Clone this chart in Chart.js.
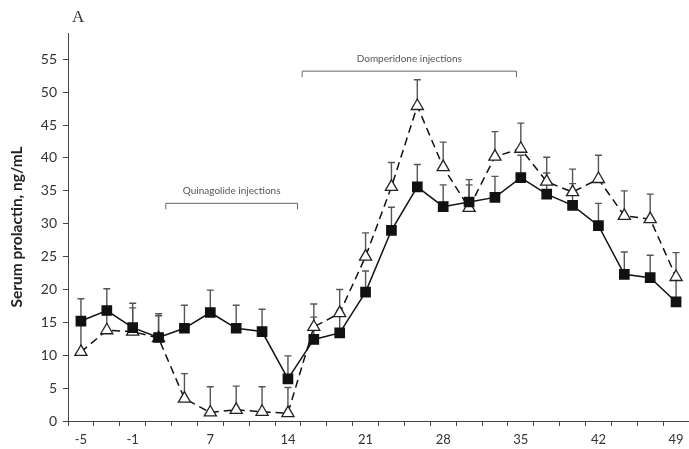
<!DOCTYPE html>
<html>
<head>
<meta charset="utf-8">
<script src="https://cdn.jsdelivr.net/npm/chart.js@4/dist/chart.umd.min.js"></script>
<style>
  html, body { margin: 0; padding: 0; background: #fff; }
  #wrap { width: 689px; height: 449px; }
</style>
</head>
<body>
<div id="wrap"><canvas id="myChart" width="689" height="449"></canvas></div>
<script>
// study days (one category per sampling day)
const days = ['-5', '-3', '-1', '2', '4', '7', '9', '11', '14', '16', '18', '21',
  '23', '25', '28', '30', '32', '35', '37', '39', '42', '44', '46', '49'];
const shownDays = ['-5', '-1', '7', '14', '21', '28', '35', '42', '49'];

// filled squares, solid line
const squareMeans = [15.2, 16.8, 14.2, 12.7, 14.1, 16.5, 14.1, 13.6, 6.4, 12.4, 13.4, 19.6,
  29.0, 35.6, 32.6, 33.3, 34.0, 37.0, 34.5, 32.8, 29.7, 22.3, 21.8, 18.1];
const squareSE = [3.4, 3.3, 3.7, 3.6, 3.5, 3.4, 3.5, 3.4, 3.5, 3.4, 3.4, 3.2,
  3.5, 3.4, 3.3, 3.4, 3.2, 3.4, 3.2, 3.3, 3.4, 3.4, 3.4, 3.5];

// open triangles, dashed line
const triangleMeans = [10.5, 13.8, 13.6, 12.6, 3.4, 1.3, 1.7, 1.4, 1.2, 14.3, 16.4, 25.0,
  35.6, 47.9, 38.6, 32.4, 40.2, 41.4, 36.4, 34.8, 36.8, 31.2, 30.7, 21.9];
const triangleSE = [4.2, 3.2, 3.6, 3.4, 3.8, 3.9, 3.6, 3.8, 3.9, 3.5, 3.6, 3.6,
  3.7, 4.0, 3.8, 3.5, 3.8, 3.9, 3.7, 3.5, 3.6, 3.8, 3.8, 3.7];

const errorBars = {
  id: 'errorBars',
  beforeDatasetsDraw(chart) {
    const { ctx } = chart;
    const x = chart.scales.x;
    const y = chart.scales.y;
    const sets = [[squareMeans, squareSE], [triangleMeans, triangleSE]];
    ctx.save();
    ctx.strokeStyle = '#555';
    ctx.lineWidth = 1.4;
    sets.forEach(([means, se]) => {
      means.forEach((m, i) => {
        const px = x.getPixelForValue(i);
        const y0 = y.getPixelForValue(m);
        const y1 = y.getPixelForValue(m + se[i]);
        ctx.beginPath();
        ctx.moveTo(px, y0);
        ctx.lineTo(px, y1);
        ctx.moveTo(px - 3.5, y1);
        ctx.lineTo(px + 3.5, y1);
        ctx.stroke();
      });
    });
    ctx.restore();
  }
};

const notes = {
  id: 'notes',
  afterDraw(chart) {
    const { ctx, chartArea } = chart;
    const x = chart.scales.x;
    const y = chart.scales.y;
    const brackets = [
      { text: 'Quinagolide injections', from: 3.28, to: 8.37, at: 33.1 },
      { text: 'Domperidone injections', from: 8.55, to: 16.83, at: 53.2 }
    ];
    ctx.save();
    brackets.forEach((b) => {
      const x0 = x.getPixelForValue(b.from);
      const x1 = x.getPixelForValue(b.to);
      const yy = y.getPixelForValue(b.at);
      ctx.strokeStyle = '#666';
      ctx.lineWidth = 1;
      ctx.beginPath();
      ctx.moveTo(x0, yy + 6);
      ctx.lineTo(x0, yy);
      ctx.lineTo(x1, yy);
      ctx.lineTo(x1, yy + 6);
      ctx.stroke();
      ctx.fillStyle = '#555';
      ctx.font = '10px Lato';
      ctx.textAlign = 'center';
      ctx.textBaseline = 'alphabetic';
      ctx.fillText(b.text, (x0 + x1) / 2, yy - 9);
    });
    ctx.fillStyle = '#333';
    ctx.font = '17px "Liberation Serif"';
    ctx.textAlign = 'left';
    ctx.fillText('A', chartArea.left + 4, chartArea.top - 11);
    ctx.restore();
  }
};

const chart = new Chart(document.getElementById('myChart'), {
  type: 'line',
  data: {
    labels: days,
    datasets: [
      {
        label: 'squares',
        data: squareMeans,
        borderColor: '#111',
        borderWidth: 1.5,
        pointStyle: 'rect',
        pointRadius: 6.5,
        pointBackgroundColor: '#111',
        pointBorderColor: '#111',
        tension: 0,
        order: 1
      },
      {
        label: 'triangles',
        data: triangleMeans,
        borderColor: '#111',
        borderWidth: 1.5,
        borderDash: [8, 5],
        pointStyle: 'triangle',
        pointRadius: 7,
        pointBackgroundColor: '#fff',
        pointBorderColor: '#222',
        pointBorderWidth: 1.3,
        tension: 0,
        order: 2
      }
    ]
  },
  options: {
    responsive: false,
    animation: false,
    layout: { autoPadding: false, padding: { top: 33, right: 0, bottom: 0, left: 0 } },
    plugins: {
      legend: { display: false },
      tooltip: { enabled: false }
    },
    scales: {
      x: {
        type: 'category',
        offset: true,
        afterFit: (scale) => {
          scale.height = 28;
          scale.paddingLeft = 0;
          scale.paddingRight = 0;
        },
        border: { display: true, color: '#444', width: 1 },
        grid: { offset: true, drawOnChartArea: false, drawTicks: true, tickLength: 5, color: '#444' },
        ticks: {
          autoSkip: false,
          maxRotation: 0,
          padding: 6,
          color: '#333',
          font: { family: 'Lato', size: 13 },
          callback: function (value) {
            const lab = this.getLabelForValue(value);
            return shownDays.includes(lab) ? lab : '';
          }
        }
      },
      y: {
        min: 0,
        max: 59,
        afterFit: (scale) => { scale.width = 68; },
        border: { display: true, color: '#444', width: 1 },
        grid: { drawOnChartArea: false, drawTicks: true, tickLength: 5, color: '#444' },
        ticks: {
          stepSize: 5,
          includeBounds: false,
          padding: 6,
          color: '#333',
          font: { family: 'Lato', size: 14 }
        },
        title: {
          display: true,
          text: 'Serum prolactin, ng/mL',
          color: '#222',
          font: { family: 'Lato', size: 15.5, weight: 'bold' },
          padding: { top: 8, bottom: 0 }
        }
      }
    }
  },
  plugins: [errorBars, notes]
});
</script>
</body>
</html>
